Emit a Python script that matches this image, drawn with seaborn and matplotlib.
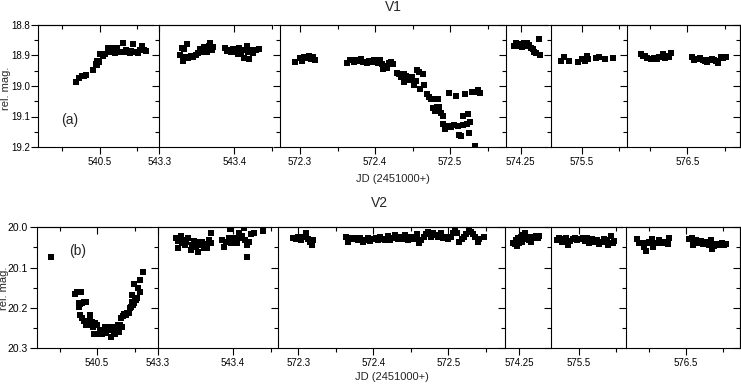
import matplotlib
matplotlib.use('Agg')
import matplotlib.pyplot as plt
import seaborn as sns
import pandas as pd

# ---- V1 light curve (JD - 2451000, relative magnitude) ----
v1_jd_1 = [540.469, 540.472, 540.476, 540.479, 540.482, 540.491, 540.4956, 540.4973, 540.499, 540.497,
           540.501, 540.505, 540.5067, 540.511, 540.515, 540.513, 540.518, 540.521, 540.523, 540.525,
           540.528, 540.531, 540.533, 540.536, 540.540, 540.542, 540.545, 540.548, 540.551, 540.554,
           540.557, 540.560, 540.562]
v1_mag_1 = [18.986, 18.973, 18.968, 18.967, 18.964, 18.949, 18.929, 18.918, 18.921, 18.931,
            18.895, 18.902, 18.896, 18.874, 18.874, 18.890, 18.882, 18.893, 18.874, 18.887,
            18.890, 18.860, 18.887, 18.882, 18.893, 18.885, 18.863, 18.887, 18.893, 18.882,
            18.869, 18.882, 18.885]

v1_jd_2 = [543.3276, 543.330, 543.3311, 543.3333, 543.3356, 543.3373, 543.3387, 543.342, 543.3453, 543.349,
           543.352, 543.354, 543.356, 543.3596, 543.362, 543.364, 543.3667, 543.368, 543.3707, 543.372,
           543.3876, 543.390, 543.393, 543.396, 543.398, 543.4018, 543.4044, 543.4067, 543.4084, 543.411,
           543.413, 543.4147, 543.4164, 543.4187, 543.420, 543.4218, 543.425, 543.429, 543.4324]
v1_mag_2 = [18.898, 18.874, 18.917, 18.880, 18.904, 18.863, 18.909, 18.902, 18.904, 18.898,
            18.893, 18.878, 18.890, 18.871, 18.882, 18.890, 18.868, 18.860, 18.882, 18.873,
            18.877, 18.884, 18.882, 18.887, 18.880, 18.887, 18.895, 18.874, 18.887, 18.882,
            18.909, 18.882, 18.868, 18.887, 18.913, 18.882, 18.891, 18.882, 18.880]

v1_jd_3 = [572.2933, 572.300, 572.303, 572.3058, 572.309, 572.312, 572.3147, 572.317, 572.320,
           572.363, 572.367, 572.3716, 572.375, 572.378, 572.381, 572.3844, 572.389, 572.392, 572.3956,
           572.399, 572.401, 572.4044, 572.407, 572.409, 572.411, 572.413, 572.4156, 572.419, 572.421,
           572.4236, 572.429, 572.432, 572.434, 572.438, 572.439, 572.4413, 572.4436, 572.4467, 572.449,
           572.452, 572.4547, 572.4556, 572.458, 572.460, 572.4644, 572.465, 572.469, 572.472, 572.475,
           572.4769, 572.478, 572.480, 572.482, 572.484, 572.4853, 572.4876, 572.490, 572.491, 572.4933,
           572.496, 572.498, 572.4991, 572.501, 572.505, 572.5076, 572.510, 572.5124, 572.514, 572.517,
           572.5178, 572.520, 572.522, 572.5236, 572.5253, 572.527, 572.5289, 572.532, 572.5333, 572.5378,
           572.540]
v1_mag_3 = [18.920, 18.907, 18.918, 18.904, 18.909, 18.902, 18.912, 18.906, 18.915,
            18.926, 18.915, 18.920, 18.915, 18.918, 18.913, 18.920, 18.924, 18.917, 18.920,
            18.915, 18.918, 18.924, 18.915, 18.929, 18.945, 18.934, 18.940, 18.924, 18.920,
            18.929, 18.956, 18.961, 18.972, 18.961, 18.986, 18.968, 18.980, 18.980, 18.970,
            18.997, 18.983, 18.948, 18.953, 19.011, 18.961, 18.997, 19.026, 19.037, 19.044,
            19.073, 19.044, 19.082, 19.068, 19.044, 19.070, 19.090, 19.097, 19.125, 19.142,
            19.133, 19.022, 19.131, 19.135, 19.128, 19.033, 19.131, 19.161, 19.164, 19.128,
            19.098, 19.027, 19.123, 19.091, 19.153, 19.118, 19.019, 19.021, 19.196, 19.013,
            19.024]

v1_jd_4 = [574.2411, 574.2438, 574.2469, 574.2491, 574.2522, 574.2544, 574.2567, 574.2589, 574.2616,
           574.2633, 574.2660, 574.2682, 574.2700, 574.2749, 574.2758]
v1_mag_4 = [18.868, 18.858, 18.863, 18.869, 18.873, 18.860, 18.869, 18.860, 18.866,
            18.877, 18.880, 18.890, 18.893, 18.847, 18.898]

v1_jd_5 = [575.472, 575.4769, 575.4836, 575.4947, 575.500, 575.5044, 575.5067, 575.5089, 575.5191,
           575.5236, 575.5311, 575.5413]
v1_mag_5 = [18.917, 18.906, 18.918, 18.922, 18.911, 18.917, 18.902, 18.913, 18.907,
            18.906, 18.913, 18.907]

v1_jd_6 = [576.4378, 576.4404, 576.4436, 576.4467, 576.4511, 576.4556, 576.4591, 576.4622, 576.4649,
           576.4680, 576.4702, 576.4733, 576.4760, 576.4782, 576.5058, 576.5093, 576.5133, 576.5169,
           576.5204, 576.5236, 576.5267, 576.5293, 576.5324, 576.5356, 576.5382, 576.5413, 576.5444,
           576.5471, 576.5516]
v1_mag_6 = [18.895, 18.902, 18.902, 18.909, 18.913, 18.909, 18.913, 18.904, 18.906,
            18.896, 18.909, 18.902, 18.904, 18.891, 18.906, 18.915, 18.913, 18.907,
            18.915, 18.918, 18.922, 18.915, 18.913, 18.915, 18.918, 18.926, 18.906,
            18.909, 18.906]

# ---- V2 light curve ----
v2_jd_1 = [540.4391, 540.4711, 540.4733, 540.4787, 540.4756, 540.4764, 540.4778, 540.4800, 540.4822,
           540.4858, 540.4778, 540.4800, 540.4822, 540.4844, 540.4858, 540.4889, 540.4900, 540.4900,
           540.4916, 540.4929, 540.4951, 540.4973, 540.4964, 540.5000, 540.5013, 540.5044, 540.5067,
           540.5089, 540.5111, 540.5124, 540.5142, 540.5169, 540.5187, 540.5209, 540.5222, 540.5244,
           540.5267, 540.5276, 540.5298, 540.5311, 540.5320, 540.5333, 540.5347, 540.5364, 540.5387,
           540.5400, 540.5422, 540.5436, 540.5453, 540.5467, 540.5480, 540.5489, 540.5498, 540.5467,
           540.5510, 540.5524, 540.5533, 540.5547, 540.5569, 540.5578, 540.5609]
v2_mag_1 = [20.073, 20.167, 20.162, 20.160, 20.189, 20.197, 20.191, 20.187, 20.185,
            20.185, 20.218, 20.226, 20.234, 20.232, 20.243, 20.239, 20.218, 20.225,
            20.243, 20.235, 20.247, 20.237, 20.266, 20.243, 20.266, 20.255, 20.265,
            20.259, 20.249, 20.262, 20.249, 20.255, 20.272, 20.247, 20.259, 20.265,
            20.254, 20.243, 20.259, 20.243, 20.225, 20.247, 20.221, 20.216, 20.218,
            20.214, 20.212, 20.201, 20.197, 20.185, 20.193, 20.189, 20.142, 20.168,
            20.177, 20.181, 20.175, 20.152, 20.131, 20.160, 20.112]

v2_jd_2 = [543.3238, 543.3270, 543.3260, 543.3304, 543.3317, 543.3340, 543.3357, 543.3379, 543.3405,
           543.3436, 543.3458, 543.3480, 543.3502, 543.3533, 543.3546, 543.3568, 543.3590, 543.3612,
           543.3634, 543.3656, 543.3678, 543.3700, 543.3709, 543.3855, 543.3885, 543.3912, 543.3943,
           543.3956, 543.3974, 543.4000, 543.4030, 543.4053, 543.4075, 543.4097, 543.4119, 543.4141,
           543.4163, 543.4185, 543.4185, 543.4216, 543.4242, 543.4286, 543.4405]
v2_mag_2 = [20.027, 20.034, 20.052, 20.022, 20.040, 20.031, 20.044, 20.036, 20.027,
            20.056, 20.044, 20.035, 20.049, 20.061, 20.036, 20.044, 20.036, 20.052,
            20.041, 20.052, 20.031, 20.040, 20.015, 20.031, 20.050, 20.036, 20.026,
            20.004, 20.038, 20.031, 20.026, 20.040, 20.015, 20.027, 20.021, 20.002,
            20.031, 20.073, 20.044, 20.036, 20.017, 20.015, 20.008]

v2_jd_3 = [572.2934, 572.2969, 572.3000, 572.3031, 572.3066, 572.3102, 572.3132, 572.3155, 572.3177,
           572.3199, 572.3631, 572.3662, 572.3693, 572.3728, 572.3764, 572.3795, 572.3826, 572.3861,
           572.3896, 572.3927, 572.3958, 572.3993, 572.4029, 572.4060, 572.4091, 572.4126, 572.4161,
           572.4192, 572.4223, 572.4258, 572.4294, 572.4325, 572.4355, 572.4391, 572.4426, 572.4457,
           572.4488, 572.4523, 572.4554, 572.4581, 572.4611, 572.4642, 572.4669, 572.4700, 572.4735,
           572.4766, 572.4797, 572.4832, 572.4868, 572.4898, 572.4929, 572.4965, 572.5000, 572.5031,
           572.5062, 572.5088, 572.5119, 572.5141, 572.5177, 572.5208, 572.5238, 572.5274, 572.5296,
           572.5327, 572.5362, 572.5397, 572.5415, 572.5472]
v2_mag_3 = [20.027, 20.030, 20.023, 20.032, 20.025, 20.015, 20.030, 20.036, 20.044,
            20.032, 20.023, 20.036, 20.027, 20.030, 20.026, 20.032, 20.027, 20.036,
            20.032, 20.027, 20.034, 20.030, 20.027, 20.032, 20.023, 20.030, 20.032,
            20.022, 20.032, 20.027, 20.019, 20.030, 20.023, 20.030, 20.019, 20.032,
            20.025, 20.030, 20.023, 20.017, 20.040, 20.032, 20.023, 20.017, 20.011,
            20.023, 20.015, 20.019, 20.023, 20.015, 20.027, 20.023, 20.030, 20.023,
            20.015, 20.007, 20.013, 20.036, 20.030, 20.023, 20.017, 20.002, 20.011,
            20.017, 20.023, 20.036, 20.030, 20.023]

v2_jd_4 = [574.2411, 574.2442, 574.2464, 574.2456, 574.2487, 574.2500, 574.2518, 574.2531, 574.2553,
           574.2576, 574.2589, 574.2607, 574.2633, 574.2651, 574.2673, 574.2696, 574.2722, 574.2744,
           574.2767]
v2_mag_4 = [20.038, 20.041, 20.046, 20.031, 20.027, 20.040, 20.023, 20.036, 20.019,
            20.015, 20.030, 20.023, 20.032, 20.036, 20.023, 20.027, 20.022, 20.027,
            20.022]

v2_jd_5 = [575.4702, 575.4738, 575.4769, 575.4800, 575.4827, 575.4853, 575.4880, 575.4916, 575.4947,
           575.4978, 575.5013, 575.5049, 575.5080, 575.5111, 575.5138, 575.5169, 575.5200, 575.5236,
           575.5271, 575.5302, 575.5333, 575.5369, 575.5391, 575.5422, 575.5449, 575.5471]
v2_mag_5 = [20.032, 20.027, 20.036, 20.030, 20.026, 20.044, 20.035, 20.030, 20.027,
            20.032, 20.030, 20.027, 20.035, 20.026, 20.040, 20.030, 20.036, 20.032,
            20.041, 20.036, 20.030, 20.032, 20.044, 20.022, 20.040, 20.035]

v2_jd_6 = [576.4342, 576.4378, 576.4409, 576.4440, 576.4462, 576.4476, 576.4507, 576.4542, 576.4556,
           576.4578, 576.4609, 576.4640, 576.4667, 576.4698, 576.4729, 576.4756, 576.4778, 576.5044,
           576.5076, 576.5089, 576.5107, 576.5133, 576.5164, 576.5196, 576.5222, 576.5253, 576.5284,
           576.5311, 576.5329, 576.5342, 576.5373, 576.5409, 576.5444, 576.5476, 576.5507, 576.5533]
v2_mag_6 = [20.029, 20.038, 20.040, 20.050, 20.058, 20.040, 20.036, 20.030, 20.050,
            20.038, 20.040, 20.032, 20.040, 20.036, 20.038, 20.041, 20.026, 20.029,
            20.027, 20.044, 20.036, 20.032, 20.038, 20.035, 20.041, 20.036, 20.040,
            20.044, 20.032, 20.055, 20.046, 20.041, 20.044, 20.040, 20.044, 20.041]

# ---- axis ticks / labels ----
v1_yticks = [18.8, 18.9, 19.0, 19.1, 19.2]
v1_yminor = [18.85, 18.95, 19.05, 19.15]
v2_yticks = [20.0, 20.1, 20.2, 20.3]
v2_yminor = [20.05, 20.15, 20.25]

x_major = [[540.5], [543.3, 543.4], [572.3, 572.4, 572.5], [574.25], [575.5], [576.5]]
x_labels = [['540.5'], ['543.3', '543.4'], ['572.3', '572.4', '572.5'], ['574.25'], ['575.5'], ['576.5']]
x_minor = [[540.45, 540.55], [543.45], [572.35, 572.45, 572.55], [], [575.55], [576.45, 576.55]]

W, H = 741, 384
PX_PER_DAY = 750

sns.set_style('ticks')
plt.rcParams['font.family'] = ['Liberation Sans', 'DejaVu Sans']
plt.rcParams['axes.linewidth'] = 0.8


def add_panel(fig, left_px, top_px, bot_px, xlim, jd, mag, ylim, idx, yticks, yminor, ytick_size, ytick_pad):
    width_px = (xlim[1] - xlim[0]) * PX_PER_DAY
    ax = fig.add_axes([left_px / W, 1 - bot_px / H, width_px / W, (bot_px - top_px) / H])
    df = pd.DataFrame({'jd': jd, 'mag': mag})
    sns.scatterplot(data=df, x='jd', y='mag', ax=ax, marker='s', s=16, color='black',
                    linewidth=0, legend=False)
    ax.set_xlim(*xlim)
    ax.set_ylim(ylim[1], ylim[0])
    ax.set_xlabel('')
    ax.set_ylabel('')
    last = idx == 5
    for side in ['top', 'left', 'bottom']:
        ax.spines[side].set_visible(True)
        ax.spines[side].set_color('black')
    ax.spines['right'].set_visible(last)
    ax.spines['right'].set_color('black')

    ax.set_xticks(x_major[idx])
    ax.set_xticklabels(x_labels[idx])
    ax.set_xticks(x_minor[idx], minor=True)
    ax.set_yticks(yticks)
    ax.set_yticks(yminor, minor=True)
    ax.tick_params(axis='both', which='both', direction='out', width=0.8, colors='black')
    ax.tick_params(axis='both', which='major', length=5)
    ax.tick_params(axis='both', which='minor', length=3)
    ax.tick_params(axis='x', labelsize=7, pad=2, top=False)
    ax.tick_params(axis='y', labelsize=ytick_size, pad=ytick_pad, right=False, labelleft=(idx == 0))
    if idx == 0:
        ax.set_yticklabels(['%.1f' % t for t in yticks])

    top = ax.secondary_xaxis('top')
    top.set_xticks(x_major[idx])
    top.set_xticks(x_minor[idx], minor=True)
    top.tick_params(which='both', direction='in', labeltop=False, width=0.8, colors='black')
    top.tick_params(which='major', length=5)
    top.tick_params(which='minor', length=3)
    top.spines['top'].set_linewidth(0.8)

    if last:
        right = ax.secondary_yaxis('right')
        right.set_yticks(yticks)
        right.set_yticks(yminor, minor=True)
        right.tick_params(which='both', direction='in', labelright=False, width=0.8, colors='black')
        right.tick_params(which='major', length=5)
        right.tick_params(which='minor', length=3)
        right.spines['right'].set_linewidth(0.8)
    return ax


fig = plt.figure(figsize=(W / 100, H / 100), dpi=100)

v1_jd = [v1_jd_1, v1_jd_2, v1_jd_3, v1_jd_4, v1_jd_5, v1_jd_6]
v1_mag = [v1_mag_1, v1_mag_2, v1_mag_3, v1_mag_4, v1_mag_5, v1_mag_6]
v2_jd = [v2_jd_1, v2_jd_2, v2_jd_3, v2_jd_4, v2_jd_5, v2_jd_6]
v2_mag = [v2_mag_1, v2_mag_2, v2_mag_3, v2_mag_4, v2_mag_5, v2_mag_6]

# panel layout: (left pixel, x range)
top_layout = [(38, (540.418, 540.571)), (159.3, (543.3, 543.45)), (280, (572.2733, 572.572)),
              (506, (574.2304, 574.2854)), (551, (575.459, 575.557)), (627, (576.4196, 576.570))]
bot_layout = [(37.3, (540.4204, 540.572)), (158, (543.3, 543.45)), (278.3, (572.2733, 572.574)),
              (505.3, (574.2313, 574.29)), (550.7, (575.4623, 575.557)), (626.3, (576.4204, 576.572))]

top_axes = []
for i, (lp, xl) in enumerate(top_layout):
    top_axes.append(add_panel(fig, lp, 25, 147, xl, v1_jd[i], v1_mag[i], (18.8, 19.2), i,
                              v1_yticks, v1_yminor, 7, 0.5))
bot_axes = []
for i, (lp, xl) in enumerate(bot_layout):
    bot_axes.append(add_panel(fig, lp, 227.3, 348, xl, v2_jd[i], v2_mag[i], (20.0, 20.3), i,
                              v2_yticks, v2_yminor, 7.5, 2))

top_axes[0].text(0.28, 0.225, '(a)', transform=top_axes[0].transAxes, fontsize=10,
                 ha='center', va='center')
bot_axes[0].text(0.356, 0.80, '(b)', transform=bot_axes[0].transAxes, fontsize=10,
                 ha='center', va='center')

fig.text(6 / W, 1 - 88 / H, 'rel. mag.', rotation=90, fontsize=8, ha='center', va='center')
fig.text(4 / W, 1 - 288 / H, 'rel. mag.', rotation=90, fontsize=8, ha='center', va='center')
fig.text(393 / W, 1 - 7 / H, 'V1', fontsize=10, ha='center', va='center')
fig.text(380 / W, 1 - 203 / H, 'V2', fontsize=10, ha='center', va='center')
fig.text(393 / W, 1 - 179 / H, 'JD (2451000+)', fontsize=8, ha='center', va='center')
fig.text(392 / W, 1 - 377 / H, 'JD (2451000+)', fontsize=8, ha='center', va='center')

fig.savefig('out.png', dpi=100)
